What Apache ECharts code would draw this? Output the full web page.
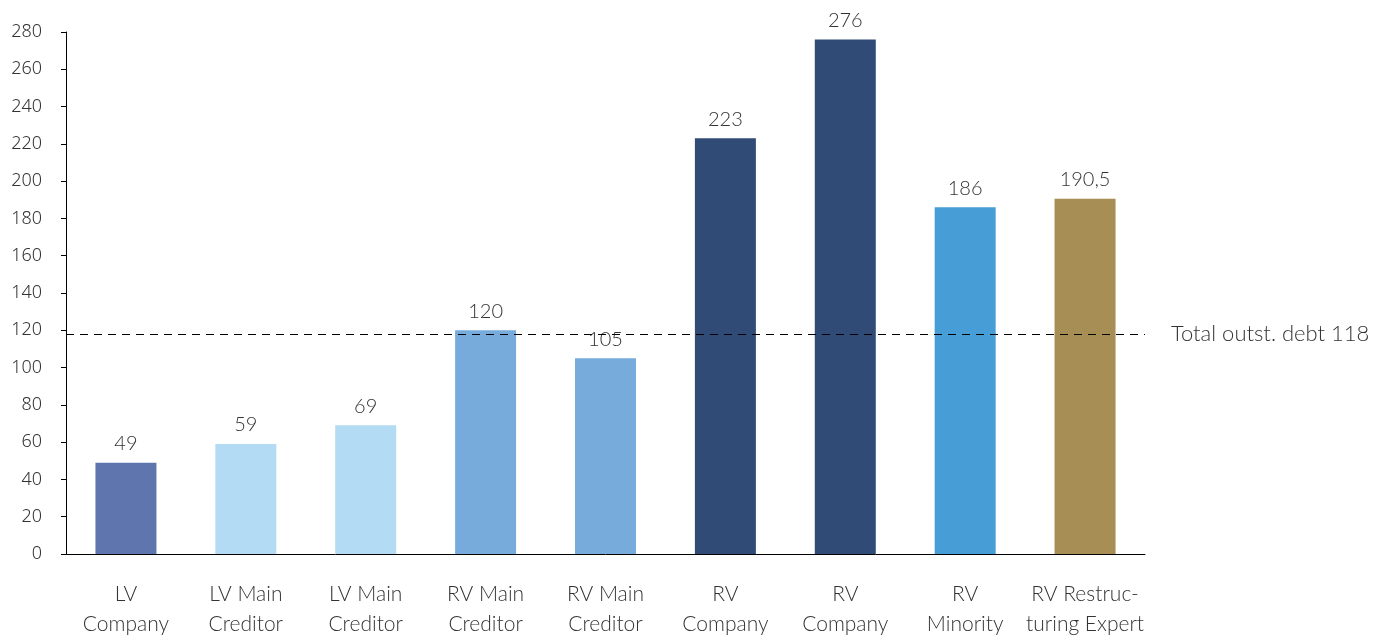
<!DOCTYPE html>
<html>
<head>
<meta charset="utf-8">
<script src="https://cdn.jsdelivr.net/npm/echarts@6/dist/echarts.min.js"></script>
<style>
  html, body { margin: 0; padding: 0; background: #fff; }
  #chart { width: 1389px; height: 639px; }
</style>
</head>
<body>
<div id="chart"></div>
<script>
  // chart data
  var categories = ['LV\nCompany', 'LV Main\nCreditor', 'LV Main\nCreditor', 'RV Main\nCreditor', 'RV Main\nCreditor',
                    'RV\nCompany', 'RV\nCompany', 'RV\nMinority', 'RV Restruc-\nturing Expert'];
  var values = [49, 59, 69, 120, 105, 223, 276, 186, 190.5];
  var barColors = ['#5f75ad', '#b3dbf3', '#b3dbf3', '#77abdc', '#77abdc', '#2f4b76', '#2f4b76', '#479ed7', '#a68e54'];
  var debtLine = 118;
  var debtLabel = 'Total outst. debt 118';

  var chart = echarts.init(document.getElementById('chart'));

  var option = {
    animation: false,
    grid: { left: 66, right: 244, top: 32, bottom: 82 },
    xAxis: {
      type: 'category',
      data: categories,
      axisLine: { lineStyle: { color: '#000', width: 1 } },
      axisTick: { show: false },
      axisLabel: {
        interval: 0,
        margin: 25,
        fontFamily: 'Lato',
        fontWeight: 300,
        fontSize: 21,
        lineHeight: 30,
        color: '#333'
      }
    },
    yAxis: {
      type: 'value',
      min: 0,
      max: 280,
      interval: 20,
      splitLine: { show: false },
      axisLine: { show: true, lineStyle: { color: '#000', width: 1 } },
      axisTick: { show: true, length: 5, lineStyle: { color: '#000' } },
      axisLabel: {
        margin: 24,
        fontFamily: 'Noto Sans',
        fontWeight: 300,
        fontSize: 18,
        color: '#333'
      }
    },
    series: [{
      type: 'bar',
      barWidth: 61,
      data: values.map(function (v, i) {
        return { value: v, itemStyle: { color: barColors[i] } };
      }),
      label: {
        show: true,
        position: 'top',
        distance: 9,
        fontFamily: 'Lato',
        fontWeight: 300,
        fontSize: 20,
        color: '#333',
        formatter: function (p) { return String(p.value).replace('.', ','); }
      },
      markLine: {
        silent: true,
        symbol: 'none',
        z: 10,
        lineStyle: { color: '#000', type: [8, 6], width: 1 },
        label: {
          position: 'end',
          distance: 26,
          fontFamily: 'Lato',
          fontWeight: 300,
          fontSize: 22,
          color: '#333',
          formatter: debtLabel
        },
        data: [{ yAxis: debtLine }]
      }
    }]
  };

  chart.setOption(option);
  window.addEventListener('resize', function () {
    chart.resize();
  });
</script>
</body>
</html>
